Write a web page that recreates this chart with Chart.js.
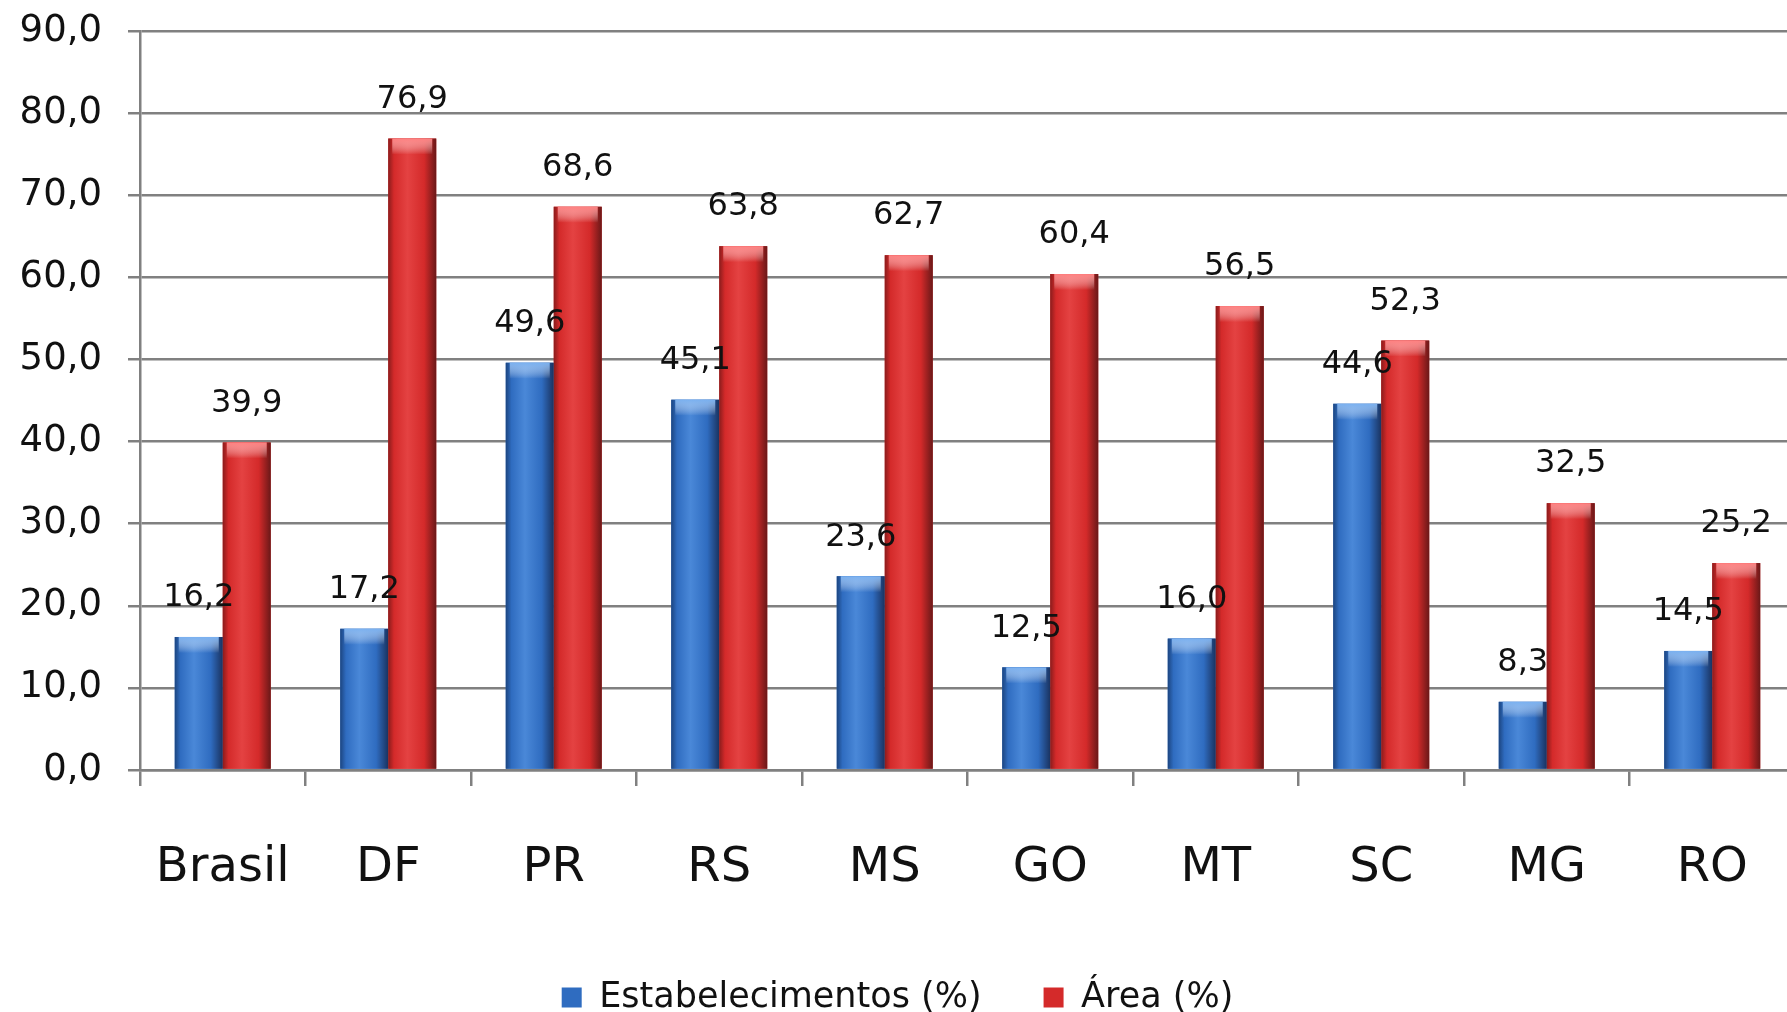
<!DOCTYPE html>
<html>
<head>
<meta charset="utf-8">
<script src="https://cdn.jsdelivr.net/npm/chart.js@4/dist/chart.umd.min.js"></script>
<style>
  html, body { margin: 0; padding: 0; background: #fff; overflow: hidden; }
  #wrap { width: 1787px; height: 1012px; overflow: hidden; }
</style>
</head>
<body>
<div id="wrap"><canvas id="chart" width="1826" height="1012"></canvas></div>
<script>
// datos
const categorias = ['Brasil', 'DF', 'PR', 'RS', 'MS', 'GO', 'MT', 'SC', 'MG', 'RO'];
const estabelecimentos = [16.2, 17.2, 49.6, 45.1, 23.6, 12.5, 16.0, 44.6, 8.3, 14.5];
const area = [39.9, 76.9, 68.6, 63.8, 62.7, 60.4, 56.5, 52.3, 32.5, 25.2];
const ticksY = [0, 10, 20, 30, 40, 50, 60, 70, 80, 90];

const fmt = (v) => v.toFixed(1).replace('.', ',');

// sombreado tipo cilindro + etiquetas de valor
const barStyle = {
  id: 'barStyle',
  afterDatasetsDraw(chart) {
    const ctx = chart.ctx;
    const shades = [
      { edge: '#1c4580', mid: '#2f6cc0', light: '#4a88d8', dark: '#1a3360', top: '#79b0f0' },
      { edge: '#8a1c1c', mid: '#d42a2a', light: '#e44242', dark: '#6a1818', top: '#ff8080' },
    ];
    chart.data.datasets.forEach((ds, di) => {
      const meta = chart.getDatasetMeta(di);
      const s = shades[di];
      meta.data.forEach((bar) => {
        const left = bar.x - bar.width / 2;
        const right = bar.x + bar.width / 2;
        const g = ctx.createLinearGradient(left, 0, right, 0);
        g.addColorStop(0, s.edge);
        g.addColorStop(0.12, s.mid);
        g.addColorStop(0.4, s.light);
        g.addColorStop(0.75, s.mid);
        g.addColorStop(1, s.dark);
        ctx.save();
        ctx.fillStyle = g;
        ctx.fillRect(left, bar.y, bar.width, bar.base - bar.y);
        // brillo superior
        const tg = ctx.createLinearGradient(0, bar.y, 0, bar.y + 16);
        tg.addColorStop(0, s.top);
        tg.addColorStop(1, 'rgba(255,255,255,0)');
        ctx.fillStyle = tg;
        ctx.fillRect(left + 4, bar.y, bar.width - 8, 16);
        ctx.restore();
      });
    });
    ctx.save();
    ctx.font = '32px "DejaVu Sans"';
    ctx.fillStyle = '#111';
    ctx.textAlign = 'center';
    ctx.textBaseline = 'bottom';
    chart.data.datasets.forEach((ds, di) => {
      chart.getDatasetMeta(di).data.forEach((bar, i) => {
        ctx.fillText(fmt(ds.data[i]), bar.x, bar.y - 23);
      });
    });
    ctx.restore();
  }
};

new Chart(document.getElementById('chart'), {
  type: 'bar',
  data: {
    labels: categorias,
    datasets: [
      {
        label: 'Estabelecimentos (%)',
        data: estabelecimentos,
        backgroundColor: '#2f6cc0',
        borderWidth: 0,
        categoryPercentage: 0.58,
        barPercentage: 1.0,
      },
      {
        label: 'Área (%)',
        data: area,
        backgroundColor: '#d42a2a',
        borderWidth: 0,
        categoryPercentage: 0.58,
        barPercentage: 1.0,
      },
    ],
  },
  options: {
    responsive: false,
    animation: false,
    layout: { padding: { top: 31, right: 31, left: 0, bottom: -13 } },
    plugins: {
      tooltip: { enabled: false },
      legend: {
        position: 'bottom',
        labels: {
          font: { family: 'DejaVu Sans', size: 35 },
          color: '#111',
          boxWidth: 20,
          boxHeight: 20,
          padding: 62,
        },
      },
    },
    scales: {
      x: {
        offset: true,
        grid: {
          offset: true,
          drawOnChartArea: false,
          color: '#808080',
          lineWidth: 2.5,
          tickLength: 16,
        },
        border: { color: '#808080', width: 2.5 },
        ticks: {
          font: { family: 'DejaVu Sans', size: 48 },
          color: '#111',
          padding: 54,
          maxRotation: 0,
        },
        afterFit(scale) {
          scale.height = 148;
          scale.paddingLeft = 0;
          scale.paddingRight = 0;
        },
      },
      y: {
        min: 0,
        max: 90,
        afterBuildTicks(scale) { scale.ticks = ticksY.map((v) => ({ value: v })); },
        grid: { color: '#808080', lineWidth: 2.5, tickLength: 12 },
        border: { color: '#808080', width: 2.5 },
        ticks: {
          font: { family: 'DejaVu Sans', size: 37 },
          color: '#111',
          padding: 26,
          callback: (v) => fmt(v),
        },
        afterFit(scale) {
          scale.width = 140;
          scale.paddingTop = 0;
          scale.paddingBottom = 0;
        },
      },
    },
  },
  plugins: [barStyle],
});
</script>
</body>
</html>
